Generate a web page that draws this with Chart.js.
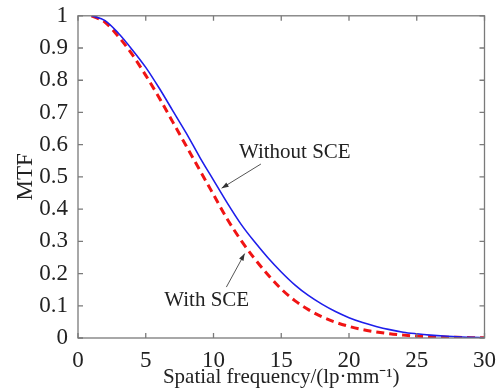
<!DOCTYPE html>
<html>
<head>
<meta charset="utf-8">
<script src="https://cdn.jsdelivr.net/npm/chart.js@4"></script>
<style>
  html, body { margin: 0; padding: 0; background: #fff; }
  #wrap { width: 497px; height: 390px; }
</style>
</head>
<body>
<div id="wrap"><canvas id="canvas"></canvas></div>
<script>
const canvas = document.getElementById("canvas");

// data
const freq = [1, 2, 3, 4, 5, 6, 7, 8, 9, 10, 11, 12, 13, 14, 15, 16, 17, 18, 19, 20, 21, 22, 23, 24, 25, 26, 27, 28, 29, 30];
const withoutSCE = [1.00, 0.985, 0.945, 0.895, 0.84, 0.775, 0.705, 0.635, 0.56, 0.49, 0.42, 0.355, 0.30, 0.25, 0.205, 0.165, 0.132, 0.105, 0.082, 0.063, 0.048, 0.036, 0.026, 0.018, 0.013, 0.009, 0.006, 0.004, 0.002, 0.001];
const withSCE = [1.00, 0.98, 0.935, 0.88, 0.815, 0.745, 0.67, 0.595, 0.52, 0.445, 0.37, 0.305, 0.248, 0.197, 0.152, 0.116, 0.088, 0.066, 0.049, 0.036, 0.026, 0.019, 0.013, 0.009, 0.006, 0.004, 0.003, 0.002, 0.001, 0.0005];
const xTicks = [0, 5, 10, 15, 20, 25, 30];
const yTicks = [0, 0.1, 0.2, 0.3, 0.4, 0.5, 0.6, 0.7, 0.8, 0.9, 1];
const yTickLabels = ["0", "0.1", "0.2", "0.3", "0.4", "0.5", "0.6", "0.7", "0.8", "0.9", "1"];

const notes = [
  { text: "Without SCE", tx: 16.0, ty: 0.575, x0: 13.5, y0: 0.54, x1: 10.6, y1: 0.465 },
  { text: "With SCE", tx: 9.5, ty: 0.117, x0: 10.95, y0: 0.158, x1: 12.3, y1: 0.262 }
];

const serif = "'Liberation Serif', 'Times New Roman', serif";

// MATLAB-ish box with inward ticks + arrows
const boxPlugin = {
  id: "box",
  afterDatasetsDraw(chart) {
    const { ctx, chartArea: a, scales } = chart;
    ctx.save();
    ctx.strokeStyle = "#7a7a7a";
    ctx.lineWidth = 1.3;
    ctx.strokeRect(a.left, a.top, a.right - a.left, a.bottom - a.top);
    ctx.beginPath();
    const len = 5;
    xTicks.forEach(v => {
      const px = scales.x.getPixelForValue(v);
      ctx.moveTo(px, a.bottom); ctx.lineTo(px, a.bottom - len);
      ctx.moveTo(px, a.top); ctx.lineTo(px, a.top + len);
    });
    yTicks.forEach(v => {
      const py = scales.y.getPixelForValue(v);
      ctx.moveTo(a.left, py); ctx.lineTo(a.left + len, py);
      ctx.moveTo(a.right, py); ctx.lineTo(a.right - len, py);
    });
    ctx.stroke();

    notes.forEach(n => {
      const x0 = scales.x.getPixelForValue(n.x0), y0 = scales.y.getPixelForValue(n.y0);
      const x1 = scales.x.getPixelForValue(n.x1), y1 = scales.y.getPixelForValue(n.y1);
      ctx.strokeStyle = "#555";
      ctx.fillStyle = "#333";
      ctx.lineWidth = 1;
      ctx.beginPath();
      ctx.moveTo(x0, y0); ctx.lineTo(x1, y1);
      ctx.stroke();
      const ang = Math.atan2(y1 - y0, x1 - x0);
      const h = 7, w = 2.5;
      ctx.beginPath();
      ctx.moveTo(x1, y1);
      ctx.lineTo(x1 - h * Math.cos(ang) + w * Math.sin(ang), y1 - h * Math.sin(ang) - w * Math.cos(ang));
      ctx.lineTo(x1 - h * Math.cos(ang) - w * Math.sin(ang), y1 - h * Math.sin(ang) + w * Math.cos(ang));
      ctx.closePath();
      ctx.fill();
      ctx.fillStyle = "#222";
      ctx.font = "21px " + serif;
      ctx.textAlign = "center";
      ctx.textBaseline = "middle";
      ctx.fillText(n.text, scales.x.getPixelForValue(n.tx), scales.y.getPixelForValue(n.ty));
    });
    ctx.restore();
  }
};

new Chart(canvas, {
  type: "line",
  data: {
    labels: freq,
    datasets: [
      {
        label: "Without SCE",
        data: freq.map((f, i) => ({ x: f, y: withoutSCE[i] })),
        borderColor: "rgb(30, 30, 235)",
        borderWidth: 1.6,
        pointRadius: 0,
        cubicInterpolationMode: "monotone",
        fill: false
      },
      {
        label: "With SCE",
        data: freq.map((f, i) => ({ x: f, y: withSCE[i] })),
        borderColor: "rgb(240, 20, 20)",
        borderWidth: 3,
        borderDash: [8, 5],
        pointRadius: 0,
        cubicInterpolationMode: "monotone",
        fill: false
      }
    ]
  },
  options: {
    responsive: true,
    maintainAspectRatio: false,
    animation: false,
    layout: { padding: { top: 14, right: 11, left: 0, bottom: 0 } },
    plugins: { legend: { display: false }, tooltip: { enabled: false } },
    scales: {
      x: {
        type: "linear",
        min: 0, max: 30,
        afterBuildTicks: s => { s.ticks = xTicks.map(v => ({ value: v })); },
        afterFit: s => { s.height = 52; },
        grid: { display: false },
        border: { display: false },
        ticks: { color: "#222", font: { family: serif, size: 23 }, padding: 1, maxRotation: 0 },
        title: {
          display: true,
          text: "Spatial frequency/(lp·mm⁻¹)",
          color: "#222",
          font: { family: serif, size: 21 },
          padding: { top: -5, bottom: 0 }
        }
      },
      y: {
        min: 0, max: 1,
        afterBuildTicks: s => { s.ticks = yTicks.map(v => ({ value: v })); },
        afterFit: s => { s.width = 78; },
        grid: { display: false },
        border: { display: false },
        ticks: {
          color: "#222",
          font: { family: serif, size: 23 },
          padding: 2,
          callback: (v, i) => yTickLabels[i]
        },
        title: {
          display: true,
          text: "MTF",
          color: "#222",
          font: { family: serif, size: 23 },
          padding: { top: 12, bottom: 0 }
        }
      }
    }
  },
  plugins: [boxPlugin]
});
</script>
</body>
</html>
